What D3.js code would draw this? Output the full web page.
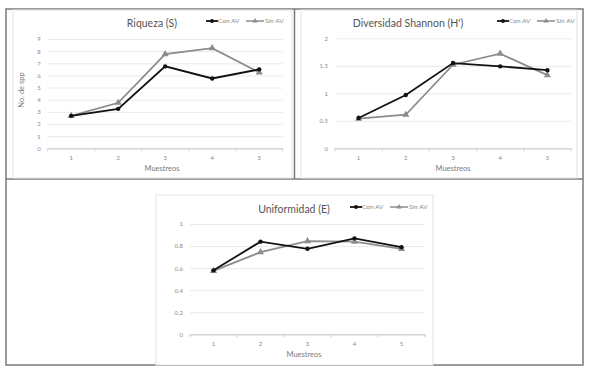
<!DOCTYPE html>
<html>
<head>
<meta charset="utf-8">
<script src="https://cdn.jsdelivr.net/npm/d3@7/dist/d3.min.js"></script>
<style>
  body { margin: 0; background: #fff; }
  svg text { font-family: Lato, "Open Sans", sans-serif; }
</style>
</head>
<body>
<div id="chart"></div>
<script>
// categories
const muestreos = ["1", "2", "3", "4", "5"];
const seriesNames = ["Con AV", "Sin AV"];

// Riqueza (S)
const riquezaCon = [2.67, 3.25, 6.75, 5.75, 6.5];
const riquezaSin = [2.67, 3.75, 7.75, 8.25, 6.25];
const riquezaTicks = [0, 1, 2, 3, 4, 5, 6, 7, 8, 9];

// Diversidad Shannon (H')
const shannonCon = [0.55, 0.97, 1.55, 1.49, 1.42];
const shannonSin = [0.54, 0.61, 1.52, 1.72, 1.33];
const shannonTicks = [0, 0.5, 1, 1.5, 2];

// Uniformidad (E)
const uniformCon = [0.58, 0.84, 0.775, 0.87, 0.79];
const uniformSin = [0.575, 0.745, 0.845, 0.84, 0.775];
const uniformTicks = [0, 0.2, 0.4, 0.6, 0.8, 1];

const W = 589, H = 370;
const svg = d3.select("#chart").append("svg")
    .attr("width", W)
    .attr("height", H);

// outer table frame
const frame = svg.append("g").attr("stroke", "#7a7a7a").attr("stroke-width", 1.5).attr("fill", "none");
frame.append("rect").attr("x", 6).attr("y", 9).attr("width", 577).attr("height", 356);
frame.append("line").attr("x1", 6).attr("x2", 583).attr("y1", 179).attr("y2", 179);
frame.append("line").attr("x1", 294.5).attr("x2", 294.5).attr("y1", 9).attr("y2", 179);

function drawChart(opt) {
    const g = svg.append("g");

    // chart area box
    g.append("rect")
        .attr("x", opt.box[0]).attr("y", opt.box[1])
        .attr("width", opt.box[2]).attr("height", opt.box[3])
        .attr("fill", "#fff").attr("stroke", "#e3e3e3").attr("stroke-width", 1);

    const x = d3.scaleBand().domain(muestreos).range(opt.xr);
    const y = d3.scaleLinear().domain([0, d3.max(opt.ticks)]).range(opt.yr);

    // gridlines + y labels
    const yAxis = g.append("g")
        .attr("transform", "translate(" + opt.xr[0] + ",0)")
        .call(d3.axisLeft(y).tickValues(opt.ticks).tickSize(-(opt.xr[1] - opt.xr[0])).tickPadding(7)
            .tickFormat(d => d));
    yAxis.select(".domain").remove();
    yAxis.selectAll(".tick line").attr("stroke", "#e4e4e4").attr("stroke-width", 0.8);
    yAxis.selectAll(".tick").filter(d => d === 0).select("line").attr("stroke", "#cfcfcf");
    yAxis.selectAll("text").attr("fill", "#8a8a8a").style("font-size", "6px");

    // x axis
    const xAxis = g.append("g")
        .attr("transform", "translate(0," + opt.yr[0] + ")")
        .call(d3.axisBottom(x).tickSize(0).tickPadding(7));
    xAxis.select(".domain").attr("stroke", "#cfcfcf");
    xAxis.selectAll("text").attr("fill", "#8a8a8a").style("font-size", "6px");
    const bounds = muestreos.map(d => x(d)).concat([opt.xr[1]]);
    xAxis.selectAll(".bound").data(bounds).join("line")
        .attr("x1", d => d).attr("x2", d => d)
        .attr("y1", 0).attr("y2", 3)
        .attr("stroke", "#cfcfcf");

    g.append("text")
        .attr("x", opt.xlab[0]).attr("y", opt.xlab[1])
        .attr("text-anchor", "middle")
        .attr("fill", "#7a7a7a").style("font-size", "7.5px")
        .text("Muestreos");

    if (opt.ylab) {
        g.append("text")
            .attr("transform", "translate(" + opt.ylab[0] + "," + opt.ylab[1] + ") rotate(-90)")
            .attr("text-anchor", "middle")
            .attr("fill", "#7a7a7a").style("font-size", "7.5px")
            .text(opt.ylabText);
    }

    // title
    g.append("text")
        .attr("x", opt.title[0]).attr("y", opt.title[1])
        .attr("text-anchor", "middle")
        .attr("fill", "#555").style("font-size", "10.5px")
        .text(opt.titleText);

    const line = d3.line()
        .x((d, i) => x(muestreos[i]) + x.bandwidth() / 2)
        .y(d => y(d));

    // Sin AV (grey, triangles)
    g.append("path").datum(opt.sin)
        .attr("d", line).attr("fill", "none")
        .attr("stroke", "#8c8c8c").attr("stroke-width", 1.8);
    g.selectAll(".tri").data(opt.sin).join("path")
        .attr("d", d3.symbol(d3.symbolTriangle, 22))
        .attr("transform", (d, i) => "translate(" + (x(muestreos[i]) + x.bandwidth() / 2) + "," + y(d) + ")")
        .attr("fill", "#8c8c8c");

    // Con AV (black, circles)
    g.append("path").datum(opt.con)
        .attr("d", line).attr("fill", "none")
        .attr("stroke", "#111").attr("stroke-width", 1.8);
    g.selectAll(".dot").data(opt.con).join("circle")
        .attr("cx", (d, i) => x(muestreos[i]) + x.bandwidth() / 2)
        .attr("cy", d => y(d))
        .attr("r", 2.2)
        .attr("fill", "#111");

    // legend
    const lg = g.append("g").attr("transform", "translate(" + opt.legend[0] + "," + opt.legend[1] + ")");
    lg.append("line").attr("x1", 0).attr("x2", 12).attr("y1", 0).attr("y2", 0)
        .attr("stroke", "#111").attr("stroke-width", 1.8);
    lg.append("circle").attr("cx", 6).attr("cy", 0).attr("r", 2).attr("fill", "#111");
    lg.append("text").attr("x", 12).attr("y", 2.3).attr("fill", "#8a8a8a")
        .style("font-size", "6.5px").text(seriesNames[0]);
    lg.append("line").attr("x1", 40).attr("x2", 58).attr("y1", 0).attr("y2", 0)
        .attr("stroke", "#8c8c8c").attr("stroke-width", 1.5);
    lg.append("path").attr("d", d3.symbol(d3.symbolTriangle, 12))
        .attr("transform", "translate(49,0)").attr("fill", "#8c8c8c");
    lg.append("text").attr("x", 59).attr("y", 2.3).attr("fill", "#8a8a8a")
        .style("font-size", "6.5px").text(seriesNames[1]);
}

drawChart({
    box: [13, 10, 279, 168],
    xr: [47.7, 282.7], yr: [148.3, 39],
    ticks: riquezaTicks, con: riquezaCon, sin: riquezaSin,
    xlab: [162, 171], ylab: [24, 90], ylabText: "No. de spp",
    title: [152, 27], titleText: "Riqueza (S)",
    legend: [206, 21]
});

drawChart({
    box: [301, 10, 276, 168],
    xr: [335, 571], yr: [148.3, 38.3],
    ticks: shannonTicks, con: shannonCon, sin: shannonSin,
    xlab: [453, 171],
    title: [408, 27], titleText: "Diversidad Shannon (H')",
    legend: [497, 21]
});

drawChart({
    box: [156, 195, 277, 170],
    xr: [190, 425], yr: [334.3, 224],
    ticks: uniformTicks, con: uniformCon, sin: uniformSin,
    xlab: [304, 357],
    title: [294, 213], titleText: "Uniformidad (E)",
    legend: [350, 207]
});
</script>
</body>
</html>
